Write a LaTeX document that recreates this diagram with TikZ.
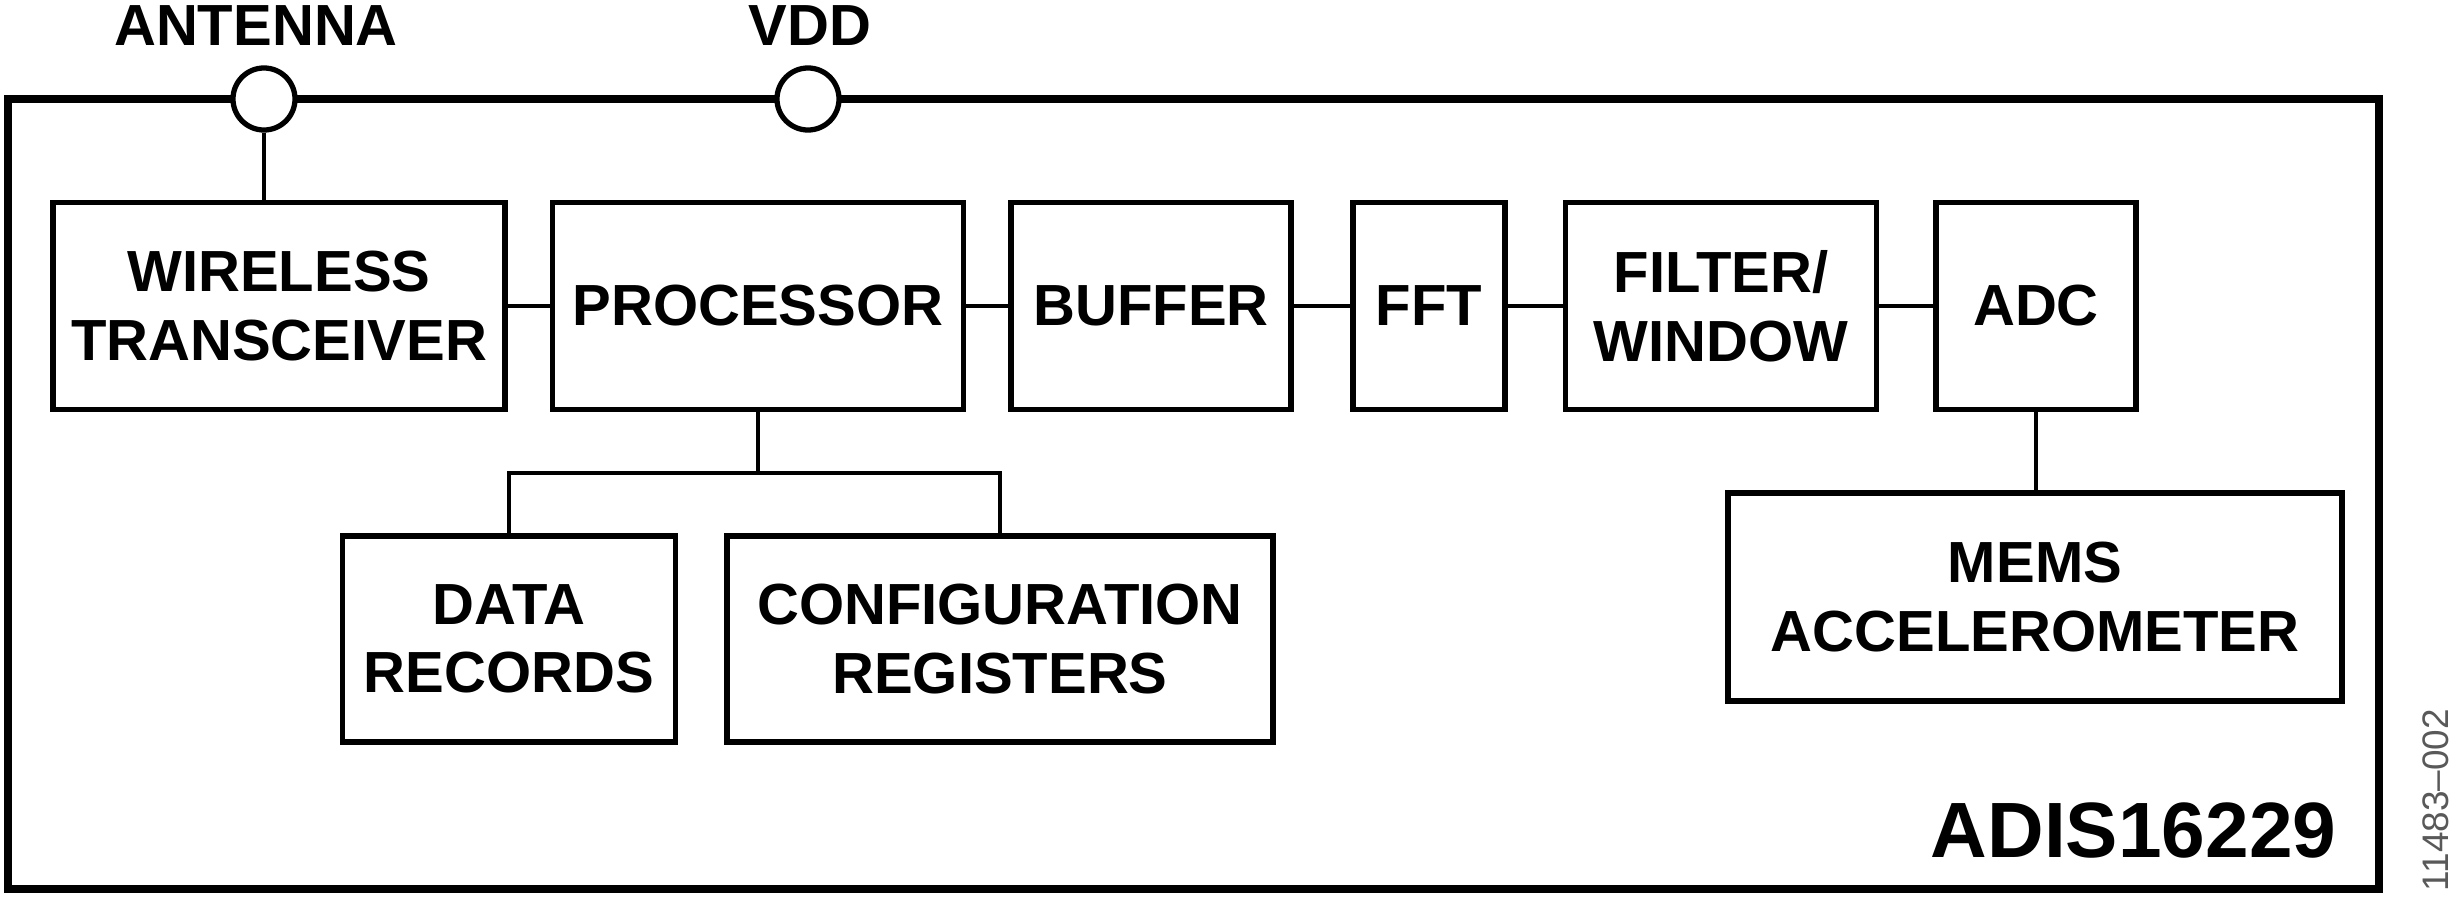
\documentclass[tikz,border=0pt]{standalone}
\usepackage{fontspec}
\setmainfont{Liberation Sans}
\begin{document}
\begin{tikzpicture}[x=0.01cm,y=-0.01cm,
  blk/.style={draw,line width=1.6pt,fill=white,inner sep=0pt,align=center,
    font=\fontsize{16.5}{19.5}\selectfont\bfseries},
  conn/.style={line width=1.3pt},
  pin/.style={draw,circle,line width=1.5pt,fill=white,inner sep=0pt},
  lbl/.style={inner sep=0pt,font=\fontsize{16.5}{19.5}\selectfont\bfseries},
  tag/.style={inner sep=0pt,font=\fontsize{10.5}{12}\selectfont,text=black!65}]
\useasboundingbox (0,0) rectangle (2457,900);
% outer frame
\draw[line width=2.3pt] (8,99) rectangle (2379,889);
% pins
\node[pin,minimum size=0.62cm] (ant) at (264,99) {};
\node[pin,minimum size=0.62cm] (vdd) at (808,99) {};
\node[lbl,anchor=base] (antlbl) at (256,45) {ANTENNA};
\node[lbl,anchor=base] (vddlbl) at (810,45) {VDD};
% blocks
\node[blk,minimum width=4.52cm,minimum height=2.07cm] (wl) at (279,306) {WIRELESS\\TRANSCEIVER};
\node[blk,minimum width=4.11cm,minimum height=2.07cm] (proc) at (758,306) {PROCESSOR};
\node[blk,minimum width=2.80cm,minimum height=2.07cm] (buf) at (1151,306) {BUFFER};
\node[blk,minimum width=1.52cm,minimum height=2.07cm] (fft) at (1429,306) {FFT};
\node[blk,minimum width=3.11cm,minimum height=2.07cm] (filt) at (1721,306) {FILTER/\\WINDOW};
\node[blk,minimum width=2.00cm,minimum height=2.07cm] (adc) at (2036,306) {ADC};
\node[blk,minimum width=3.33cm,minimum height=2.06cm] (data) at (509,639) {DATA\\RECORDS};
\node[blk,minimum width=5.46cm,minimum height=2.06cm] (cfg) at (1000,639) {CONFIGURATION\\REGISTERS};
\node[blk,minimum width=6.14cm,minimum height=2.08cm] (mems) at (2035,597) {MEMS\\ACCELEROMETER};
% connectors
\draw[conn] (ant.south) -- (ant.south |- wl.north);
\draw[conn] (wl.east) -- (proc.west);
\draw[conn] (proc.east) -- (buf.west);
\draw[conn] (buf.east) -- (fft.west);
\draw[conn] (fft.east) -- (filt.west);
\draw[conn] (filt.east) -- (adc.west);
\draw[conn] (adc.south) -- (adc.south |- mems.north);
\coordinate (bus) at (758,473);
\draw[conn] (proc.south) -- (bus);
\draw[conn] (data.north) |- (bus) -| (cfg.north);
% part name and figure number
\node[inner sep=0pt,anchor=base east,font=\fontsize{22.3}{26}\selectfont\bfseries] (part) at (2337,857) {ADIS16229};
\node[tag,rotate=90] (fig) at (2436,800) {11483–002};
\end{tikzpicture}
\end{document}
